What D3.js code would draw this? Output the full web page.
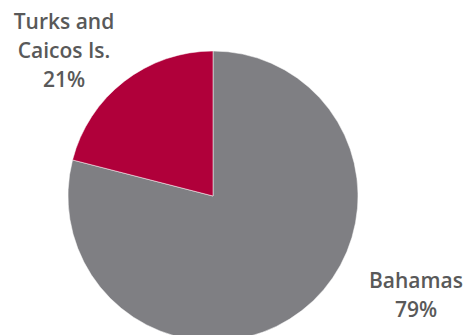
<!DOCTYPE html>
<html>
    <head>
        <script src="https://d3js.org/d3.v7.min.js"></script>
        <style>
            body {
                margin: 0;
                background: #fff;
                overflow: hidden;
            }
            .label {
                font-family: 'Open Sans', sans-serif;
                font-weight: 600;
                font-size: 21px;
                fill: #595959;
            }
        </style>
    </head>
    <body>
        <script>
            const categories = ['Bahamas', 'Turks and Caicos Is.'];
            const values = [79, 21];
            const colors = ['#7f7f83', '#b0003a'];
            const labelLines = [['Bahamas', '79%'], ['Turks and', 'Caicos Is.', '21%']];
            const labelPos = [[416, 288], [64, 29]];

            const width = 468;
            const height = 335;
            const cx = 213, cy = 196, radius = 145;

            const svg = d3.select('body').append('svg').attr('width', width).attr('height', height);

            const pie = d3.pie().sort(null).value((d) => d);
            const arc = d3.arc().innerRadius(0).outerRadius(radius);
            const color = d3.scaleOrdinal().domain(categories).range(colors);

            const g = svg.append('g').attr('transform', `translate(${cx},${cy})`);
            g.selectAll('path')
                .data(pie(values))
                .enter()
                .append('path')
                .attr('d', arc)
                .attr('fill', (d, i) => color(categories[i]))
                .attr('stroke', '#fff')
                .attr('stroke-width', 0.5);

            labelLines.forEach((lines, i) => {
                const t = svg.append('text').attr('class', 'label').attr('text-anchor', 'middle');
                lines.forEach((line, j) => {
                    t.append('tspan')
                        .attr('x', labelPos[i][0])
                        .attr('y', labelPos[i][1] + j * 29)
                        .text(line);
                });
            });
        </script>
    </body>
</html>
